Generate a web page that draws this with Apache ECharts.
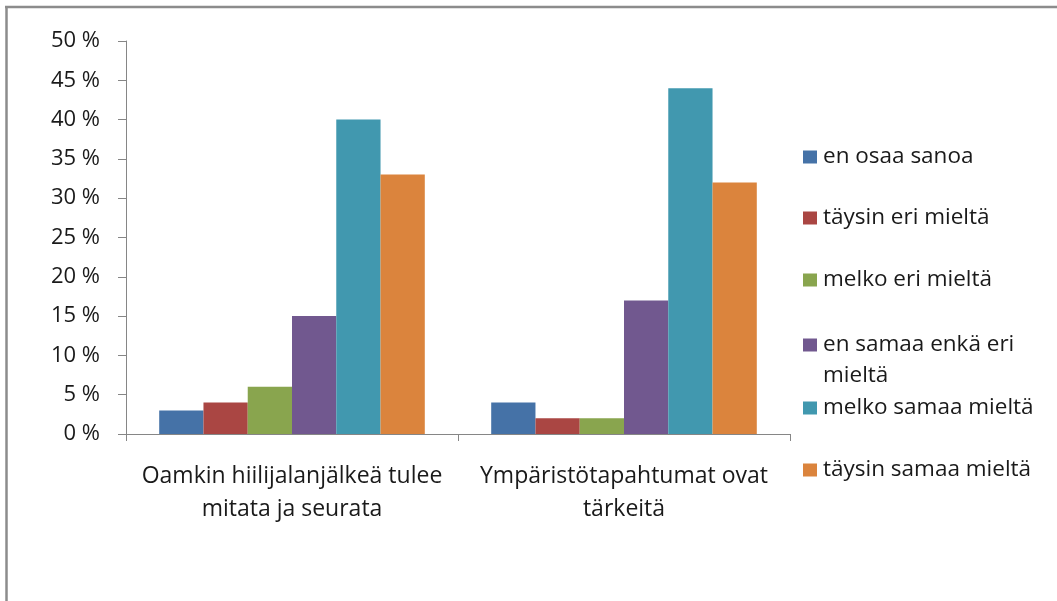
<!DOCTYPE html>
<html>
<head>
<meta charset="utf-8">
<script src="https://cdn.jsdelivr.net/npm/echarts@6/dist/echarts.min.js"></script>
<style>
html,body{margin:0;padding:0;background:#fff;}
#chart{width:1057px;height:601px;}
</style>
</head>
<body>
<div id="chart"></div>
<script>
var categories = ['Oamkin hiilijalanjälkeä tulee\nmitata ja seurata', 'Ympäristötapahtumat ovat\ntärkeitä'];
var seriesNames = ['en osaa sanoa', 'täysin eri mieltä', 'melko eri mieltä', 'en samaa enkä eri mieltä', 'melko samaa mieltä', 'täysin samaa mieltä'];
var enOsaaSanoa = [3, 4];
var taysinEriMielta = [4, 2];
var melkoEriMielta = [6, 2];
var enSamaaEnkaEriMielta = [15, 17];
var melkoSamaaMielta = [40, 44];
var taysinSamaaMielta = [33, 32];
var yTicks = [0, 5, 10, 15, 20, 25, 30, 35, 40, 45, 50];

var values = [enOsaaSanoa, taysinEriMielta, melkoEriMielta, enSamaaEnkaEriMielta, melkoSamaaMielta, taysinSamaaMielta];
var colors = ['#4572A7', '#AA4643', '#89A54E', '#71588F', '#4198AF', '#DB843D'];
var legendTops = [141.5, 202.5, 264.5, 298.5, 392.5, 454.5];
var FONT = 'Open Sans';

var series = seriesNames.map(function (n, i) {
  return {
    name: n,
    type: 'bar',
    data: values[i],
    barGap: '0%',
    barCategoryGap: '20%',
    itemStyle: { color: colors[i] },
    animation: false
  };
});

var legends = seriesNames.map(function (n, i) {
  return {
    data: [n],
    left: 803,
    top: legendTops[i],
    orient: 'vertical',
    itemWidth: 14,
    itemHeight: 13,
    itemGap: 0,
    padding: 0,
    icon: 'rect',
    formatter: function (name) {
      if (name === 'en samaa enkä eri mieltä') return ' \nen samaa enkä eri\nmieltä';
      return name;
    },
    textStyle: { fontFamily: FONT, fontSize: 22.5, color: '#1a1a1a', lineHeight: 31, padding: [0, 0, 0, 1] }
  };
});

var chart = echarts.init(document.getElementById('chart'), null, { renderer: 'canvas' });
chart.setOption({
  animation: false,
  backgroundColor: '#ffffff',
  grid: { left: 126, right: 267, top: 41, bottom: 167, containLabel: false },
  legend: legends,
  xAxis: {
    type: 'category',
    data: categories,
    axisLine: { lineStyle: { color: '#868686', width: 1 } },
    axisTick: { show: true, length: 7, lineStyle: { color: '#868686' } },
    axisLabel: { fontFamily: FONT, fontSize: 23, color: '#1a1a1a', lineHeight: 33, margin: 26, interval: 0 },
    splitLine: { show: false }
  },
  yAxis: {
    type: 'value',
    min: yTicks[0],
    max: yTicks[yTicks.length - 1],
    interval: yTicks[1] - yTicks[0],
    axisLine: { show: true, lineStyle: { color: '#868686', width: 1 } },
    axisTick: { show: true, length: 8, lineStyle: { color: '#868686' } },
    axisLabel: { fontFamily: FONT, fontSize: 22, color: '#1a1a1a', margin: 26, formatter: function (v) { return v + ' %'; } },
    splitLine: { show: false }
  },
  graphic: [
    { type: 'line', silent: true, shape: { x1: 6.5, y1: 7, x2: 6.5, y2: 601 }, style: { stroke: '#8c8c8c', lineWidth: 2.5 } },
    { type: 'line', silent: true, shape: { x1: 5, y1: 7, x2: 1057, y2: 7 }, style: { stroke: '#8c8c8c', lineWidth: 2.5 } }
  ],
  series: series
});
</script>
</body>
</html>
